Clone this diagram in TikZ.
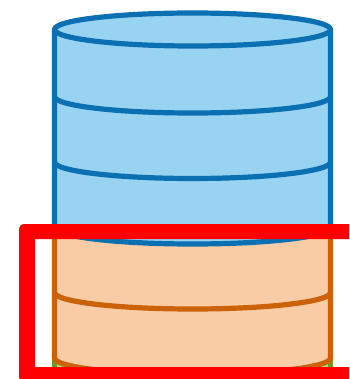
\documentclass[tikz,border=0pt]{standalone}
\definecolor{bluefill}{HTML}{99D3F2}
\definecolor{bluestroke}{HTML}{0A70B2}
\definecolor{orangefill}{HTML}{F9CCA6}
\definecolor{orangestroke}{HTML}{CC6208}
\definecolor{greenfill}{HTML}{C2DC62}
\definecolor{greenstroke}{HTML}{6F9A20}
\tikzset{
  blueseg/.style={draw=bluestroke,fill=bluefill,line width=5.2pt,line join=round},
  orangeseg/.style={draw=orangestroke,fill=orangefill,line width=5.2pt,line join=round},
  greenseg/.style={draw=greenstroke,fill=greenfill,line width=5.2pt,line join=round},
  arcline/.style={line width=5.2pt,line cap=round}
}
\begin{document}
\begin{tikzpicture}[x=1pt,y=-1pt]
\useasboundingbox (0,0) rectangle (349,379);
\begin{scope}
\clip (0,0) rectangle (349,379);
% green cylinder behind
\draw[greenseg] (54.5,340) -- (54.5,400) -- (330.5,400) -- (330.5,340) -- cycle;
% orange cylinder
\draw[orangeseg] (54.5,227) -- (54.5,358) arc[start angle=180,end angle=0,x radius=138,y radius=16.5]
  -- (330.5,227) -- cycle;
\draw[orangestroke,arcline] (54.5,292.5) arc[start angle=180,end angle=0,x radius=138,y radius=16.5];
% blue cylinder
\draw[blueseg] (54.5,29.5) arc[start angle=180,end angle=360,x radius=138,y radius=16.5]
  -- (330.5,227.5) arc[start angle=0,end angle=180,x radius=138,y radius=16.5] -- cycle;
\draw[bluestroke,arcline] (54.5,29.5) arc[start angle=180,end angle=0,x radius=138,y radius=16.5];
\draw[bluestroke,arcline] (54.5,96.5) arc[start angle=180,end angle=0,x radius=138,y radius=16.5];
\draw[bluestroke,arcline] (54.5,162) arc[start angle=180,end angle=0,x radius=138,y radius=16.5];
% red frame
\fill[red,even odd rule] (349,224) -- (25,224) .. controls (21,224) and (19,226) .. (19,230)
  -- (19,377) .. controls (19,378.5) and (19.5,379) .. (21,379) -- (349,379) -- (349,367)
  -- (35,367) -- (35,239) -- (349,239) -- cycle;
\end{scope}
\end{tikzpicture}
\end{document}
